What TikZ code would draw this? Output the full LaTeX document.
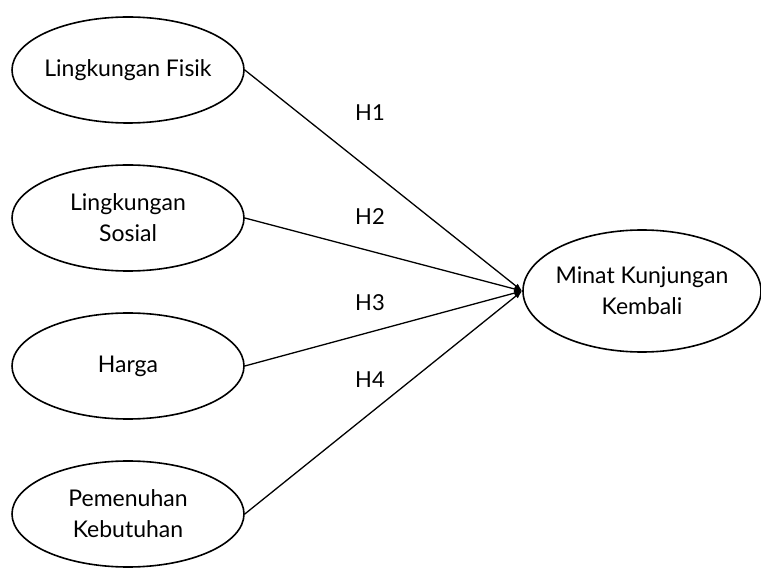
\documentclass[tikz,border=0pt]{standalone}
\usepackage{fontspec}
\setmainfont{Lato}
\usetikzlibrary{shapes.geometric,arrows.meta}

\begin{document}
\begin{tikzpicture}[x=1pt,y=-1pt,
  var/.style={draw,ellipse,line width=1.6pt,minimum width=232pt,minimum height=106pt,inner sep=0pt},
  txt/.style={align=center,font=\fontsize{23}{31}\selectfont},
  hyp/.style={font=\fontsize{22}{24}\selectfont},
  link/.style={line width=1.3pt,-{Latex[length=8pt,width=6pt]}}]
  \useasboundingbox (0,0) rectangle (761,569);
  % variabel bebas
  \node[var,label={[txt]center:Lingkungan Fisik}] (fisik) at (128,70) {};
  \node[var,label={[txt]center:{Lingkungan\\Sosial}}] (sosial) at (128,218) {};
  \node[var,label={[txt]center:Harga}] (harga) at (128,366) {};
  \node[var,label={[txt]center:{Pemenuhan\\Kebutuhan}}] (butuh) at (128,514) {};
  % variabel terikat
  \node[var,minimum width=238pt,minimum height=122pt,label={[txt]center:{Minat Kunjungan\\Kembali}}] (minat) at (642,291) {};

  \draw[link] (fisik.east)--(minat.west);
  \draw[link] (sosial.east)--(minat.west);
  \draw[link] (harga.east)--(minat.west);
  \draw[link] (butuh.east)--(minat.west);

  \node[hyp] (h1) at (370,113) {H1};
  \node[hyp] (h2) at (370,217) {H2};
  \node[hyp] (h3) at (370,303) {H3};
  \node[hyp] (h4) at (370,380) {H4};
\end{tikzpicture}
\end{document}
